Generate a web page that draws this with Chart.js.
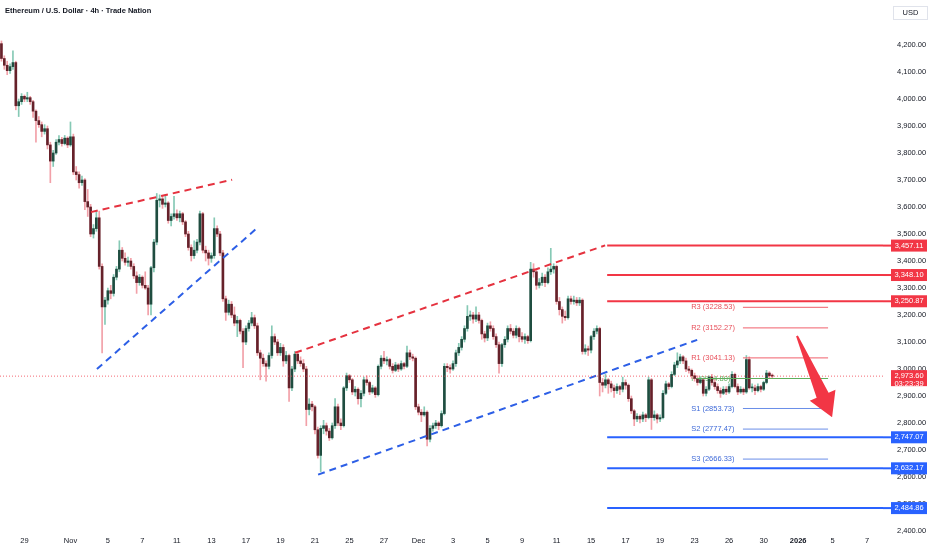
<!DOCTYPE html>
<html>
<head>
<meta charset="utf-8">
<title>Ethereum / U.S. Dollar 4h</title>
<script src="https://cdn.jsdelivr.net/npm/chart.js@4.4.1/dist/chart.umd.min.js"></script>
<style>
html,body{margin:0;padding:0;background:#fff;}
canvas{display:block;}
</style>
</head>
<body>
<canvas id="chart" width="932" height="550"></canvas>
<script>
// 4h candles, bar index 0 = first visible bar
const opens=[
4205,4150,4125,4105,4120,4135,3975,3990,4010,4000,
4005,3990,3955,3920,3905,3880,3890,3830,3770,3800,
3840,3850,3835,3855,3830,3860,3730,3720,3690,3700,
3620,3600,3500,3520,3560,3380,3230,3255,3290,3280,
3340,3370,3440,3410,3395,3400,3380,3345,3320,3340,
3310,3300,3240,3375,3470,3625,3630,3610,3615,3550,
3565,3575,3560,3575,3545,3500,3450,3420,3440,3470,
3575,3440,3430,3410,3420,3520,3500,3430,3260,3210,
3240,3200,3170,3180,3140,3100,3150,3170,3190,3160,
3060,3040,3020,3010,3050,3120,3100,3060,3080,3030,
3050,2930,3000,3055,3030,3020,3000,2850,2870,2860,
2775,2680,2780,2790,2770,2745,2790,2860,2800,2790,
2930,2975,2960,2915,2925,2890,2910,2960,2950,2915,
2930,2905,3010,3040,3030,3035,3010,2995,3015,3000,
3020,3010,3060,3045,3040,2860,2840,2830,2840,2740,
2780,2790,2800,2790,2835,3010,3005,3000,3020,3060,
3080,3110,3150,3195,3200,3185,3200,3180,3130,3115,
3160,3150,3120,3090,3020,3090,3110,3150,3140,3125,
3150,3120,3110,3120,3105,3370,3360,3310,3320,3340,
3320,3360,3370,3380,3250,3220,3195,3190,3260,3250,
3255,3245,3255,3065,3075,3070,3120,3140,3150,2950,
2940,2960,2945,2930,2920,2935,2925,2950,2940,2890,
2845,2815,2825,2815,2830,2820,2960,2820,2830,2815,
2820,2910,2945,2935,2980,3015,3030,3045,3030,3000,
2995,2975,2965,2950,2960,2910,2925,2970,2950,2935,
2920,2910,2925,2915,2935,2980,2935,2915,2925,2915,
3035,2930,2930,2920,2935,2925,2950,2985,2975];
const highs=[
4215,4160,4140,4130,4178,4140,4000,4020,4015,4025,
4010,3995,3960,3935,3915,3905,3900,3840,3810,3850,
3865,3858,3865,3860,3915,3870,3750,3730,3715,3705,
3665,3610,3535,3585,3585,3390,3265,3300,3310,3350,
3380,3475,3450,3430,3415,3410,3390,3360,3350,3345,
3360,3310,3380,3480,3650,3645,3640,3645,3620,3575,
3640,3590,3585,3580,3550,3510,3460,3475,3480,3585,
3580,3455,3440,3430,3560,3530,3510,3440,3270,3255,
3250,3230,3195,3185,3150,3160,3180,3210,3200,3170,
3070,3055,3030,3060,3160,3130,3110,3095,3090,3065,
3055,3010,3065,3060,3045,3035,3010,2890,2880,2865,
2785,2790,2810,2800,2780,2800,2890,2870,2815,2935,
2985,2980,2965,2935,2930,2920,2970,2975,2955,2940,
2935,3015,3050,3065,3045,3040,3020,3025,3020,3030,
3025,3085,3070,3055,3045,2870,2850,2860,2845,2790,
2800,2810,2805,2845,3020,3020,3015,3030,3070,3095,
3120,3160,3235,3215,3210,3230,3210,3185,3140,3170,
3175,3160,3130,3100,3095,3120,3160,3165,3150,3160,
3155,3135,3130,3125,3395,3390,3365,3335,3355,3350,
3375,3447,3390,3385,3265,3230,3215,3270,3270,3270,
3265,3265,3260,3090,3085,3125,3150,3160,3155,2965,
2980,2965,2955,2940,2945,2940,2970,2960,2945,2900,
2850,2835,2830,2840,2835,2970,2965,2845,2835,2830,
2920,2955,2950,2990,3025,3060,3055,3050,3040,3010,
3000,2985,2975,2970,2965,2935,2975,2980,2960,2945,
2930,2935,2935,2945,2990,2985,2945,2935,2930,3050,
3045,2945,2940,2945,2940,2955,2995,2990,2982];
const lows=[
4140,4110,4090,4095,4110,3960,3935,3980,3990,3990,
3980,3932,3840,3895,3860,3870,3815,3690,3750,3795,
3830,3825,3830,3820,3825,3720,3700,3670,3680,3590,
3565,3490,3485,3510,3370,3060,3165,3240,3260,3270,
3330,3360,3400,3385,3380,3370,3335,3280,3310,3300,
3295,3200,3200,3360,3460,3600,3595,3600,3540,3530,
3555,3550,3545,3535,3490,3440,3400,3410,3430,3460,
3430,3400,3385,3395,3410,3490,3420,3250,3180,3200,
3190,3160,3120,3130,3005,3090,3140,3160,3150,3050,
2960,3010,2955,3000,3040,3090,3050,3050,3010,3020,
2880,2920,2990,3020,3010,2990,2790,2830,2845,2760,
2670,2620,2760,2755,2735,2740,2780,2790,2775,2785,
2920,2950,2905,2900,2870,2860,2900,2940,2905,2910,
2895,2900,3000,3020,3015,3000,2985,2990,2990,2995,
3000,3005,3035,3030,2850,2830,2805,2825,2715,2730,
2770,2780,2775,2785,2830,2990,2985,2995,3010,3050,
3070,3100,3140,3180,3170,3175,3170,3110,3100,3105,
3140,3110,3080,2985,3010,3080,3100,3130,3115,3115,
3100,3100,3095,3095,3100,3340,3295,3300,3310,3305,
3315,3350,3355,3240,3200,3170,3180,3185,3240,3240,
3235,3235,3055,3055,3050,3060,3110,3130,2900,2915,
2930,2910,2915,2895,2910,2905,2915,2925,2880,2835,
2790,2805,2800,2805,2805,2815,2776,2810,2800,2805,
2815,2905,2925,2930,2975,3005,3020,3020,2990,2985,
2965,2955,2940,2945,2900,2900,2920,2940,2925,2910,
2895,2905,2905,2910,2930,2930,2905,2910,2905,2910,
2925,2915,2905,2915,2915,2920,2945,2965,2965];
const closes=[
4150,4125,4105,4120,4135,3975,3990,4010,4000,4005,
3990,3955,3920,3905,3880,3890,3830,3770,3800,3840,
3850,3835,3855,3830,3860,3730,3720,3690,3700,3620,
3600,3500,3520,3560,3380,3230,3255,3290,3280,3340,
3370,3440,3410,3395,3400,3380,3345,3320,3340,3310,
3300,3240,3375,3470,3625,3630,3610,3615,3550,3565,
3575,3560,3575,3545,3500,3450,3420,3440,3470,3575,
3440,3430,3410,3420,3520,3500,3430,3260,3210,3240,
3200,3170,3180,3140,3100,3150,3170,3190,3160,3060,
3040,3020,3010,3050,3120,3100,3060,3080,3030,3050,
2930,3000,3055,3030,3020,3000,2850,2870,2860,2775,
2680,2780,2790,2770,2745,2790,2860,2800,2790,2930,
2975,2960,2915,2925,2890,2910,2960,2950,2915,2930,
2905,3010,3040,3030,3035,3010,2995,3015,3000,3020,
3010,3060,3045,3040,2860,2840,2830,2840,2740,2780,
2790,2800,2790,2835,3010,3005,3000,3020,3060,3080,
3110,3150,3195,3200,3185,3200,3180,3130,3115,3160,
3150,3120,3090,3020,3090,3110,3150,3140,3125,3150,
3120,3110,3120,3105,3370,3360,3310,3320,3340,3320,
3360,3370,3380,3250,3220,3195,3190,3260,3250,3255,
3245,3255,3065,3075,3070,3120,3140,3150,2950,2940,
2960,2945,2930,2920,2935,2925,2950,2940,2890,2845,
2815,2825,2815,2830,2820,2960,2820,2830,2815,2820,
2910,2945,2935,2980,3015,3030,3045,3030,3000,2995,
2975,2965,2950,2960,2910,2925,2970,2950,2935,2920,
2910,2925,2915,2935,2980,2935,2915,2925,2915,3035,
2930,2930,2920,2935,2925,2950,2985,2975,2973.6];

// time axis labels (bar index -> text)
const tickIdx=[8,24,37,49,61,73,85,97,109,121,133,145,157,169,181,193,205,217,229,241,253,265,277,289,301];
const tickText=['29','Nov','5','7','11','13','17','19','21','25','27','Dec','3','5','9','11','15','17','19','23','26','30','2026','5','7'];
const priceTicks=[2400,2500,2600,2700,2800,2900,3000,3100,3200,3300,3400,3500,3600,3700,3800,3900,4000,4100,4200];

// horizontal levels
const resistance=[3457.11,3348.10,3250.87];
const support=[2747.07,2632.17,2484.86];
const pivotNames=['R3','R2','R1','P','S1','S2','S3'];
const pivotValues=[3228.53,3152.27,3041.13,2964.80,2853.73,2777.47,2666.33];
const countdown='03:23:39';

// trend lines [barIndex, price]
const redWedge1=[[31.1,3581],[80.2,3701]];
const blueWedge1=[[33.2,3000],[89.2,3525]];
const redChannel=[[102.1,3060],[209.9,3458]];
const blueChannel=[[110.1,2609],[241.9,3108]];
const arrowPath=[[276.6,3123],[288.8,2821]];

const FONT='"Liberation Sans", Arial, sans-serif';
Chart.defaults.font.family=FONT;
Chart.defaults.font.size=7.5;
Chart.defaults.color='#131722';

const RED='#f23645', BLUE='#2962ff';
const UP_BODY='#1f4d40', DN_BODY='#66212a', UP_WICK='#86c9b5', DN_WICK='#f2a0a8';
const XMAX=306.5, LVL_FROM=210.6, PIV_FROM=257.8, PIV_TO=287.4;

const fmt=v=>v.toLocaleString('en-US',{minimumFractionDigits:2,maximumFractionDigits:2});
const isUp=i=>closes[i]>=opens[i];
const last=closes[closes.length-1];

function hline(v,x1,x2,color,width,dash){
    return {type:'line',data:[{x:x1,y:v},{x:x2,y:v}],borderColor:color,borderWidth:width,
        borderDash:dash||[],pointRadius:0,order:1};
}
function trend(p,color){
    return {type:'line',data:p.map(q=>({x:q[0],y:q[1]})),borderColor:color,borderWidth:2,
        borderDash:[7,5],pointRadius:0,order:1};
}

const datasets=[
    {type:'bar',data:closes.map((c,i)=>({x:i,y:[lows[i],highs[i]]})),barThickness:1,grouped:false,
        backgroundColor:ctx=>isUp(ctx.dataIndex)?UP_WICK:DN_WICK,order:3},
    {type:'bar',data:closes.map((c,i)=>({x:i,y:[opens[i],c]})),barThickness:2,grouped:false,minBarLength:1,
        backgroundColor:ctx=>isUp(ctx.dataIndex)?UP_BODY:DN_BODY,order:2},
    hline(last,-0.5,XMAX,'rgba(242,54,69,0.75)',1,[1,2]),
    trend(redWedge1,'#e5323f'),
    trend(blueWedge1,'#2d5fe6'),
    trend(redChannel,'#e5323f'),
    trend(blueChannel,'#2d5fe6')
];
resistance.forEach(v=>datasets.push(hline(v,LVL_FROM,XMAX,RED,2)));
support.forEach(v=>datasets.push(hline(v,LVL_FROM,XMAX,BLUE,2)));
pivotValues.forEach((v,i)=>{
    const n=pivotNames[i];
    const col=n==='P'?'#5fae5c':(n[0]==='R'?'#f0606b':'#6a8ee8');
    datasets.push(hline(v,n==='P'?241.8:PIV_FROM,PIV_TO,col,1));
});

const overlay={
    id:'overlay',
    beforeDatasetsDraw(chart){
        const {ctx,scales:{x,y}}=chart;
        ctx.save();
        ctx.font='7.5px '+FONT;
        ctx.textBaseline='middle';
        pivotNames.forEach((n,i)=>{
            if(n!=='P')return;
            ctx.fillStyle='#5fae5c';
            ctx.fillText(n+' ('+pivotValues[i].toFixed(2)+')',x.getPixelForValue(239.8),y.getPixelForValue(pivotValues[i]));
        });
        ctx.restore();
    },
    afterDraw(chart){
        const {ctx,chartArea,scales:{x,y}}=chart;
        const R=chartArea.right;
        ctx.save();
        ctx.textBaseline='middle';

        // title
        ctx.font='bold 7.5px '+FONT;
        ctx.fillStyle='#131722';
        ctx.fillText('Ethereum / U.S. Dollar · 4h · Trade Nation',5,11);

        // pivot labels
        ctx.font='7.5px '+FONT;
        pivotNames.forEach((n,i)=>{
            if(n==='P')return;
            ctx.fillStyle=n[0]==='R'?'#e8505b':'#3f6ad8';
            ctx.fillText(n+' ('+pivotValues[i].toFixed(2)+')',x.getPixelForValue(239.8),y.getPixelForValue(pivotValues[i]));
        });

        // arrow
        const a=[x.getPixelForValue(arrowPath[0][0]),y.getPixelForValue(arrowPath[0][1])];
        const b=[x.getPixelForValue(arrowPath[1][0]),y.getPixelForValue(arrowPath[1][1])];
        const dx=b[0]-a[0],dy=b[1]-a[1],len=Math.hypot(dx,dy),ux=dx/len,uy=dy/len,nx=-uy,ny=ux;
        const hx=b[0]-ux*24,hy=b[1]-uy*24;
        ctx.beginPath();
        ctx.moveTo(a[0]+nx,a[1]+ny);
        ctx.lineTo(hx+nx*6.5,hy+ny*6.5);
        ctx.lineTo(hx+nx*14,hy+ny*14);
        ctx.lineTo(b[0],b[1]);
        ctx.lineTo(hx-nx*14,hy-ny*14);
        ctx.lineTo(hx-nx*6.5,hy-ny*6.5);
        ctx.lineTo(a[0]-nx,a[1]-ny);
        ctx.closePath();
        ctx.fillStyle=RED;
        ctx.fill();

        // price scale tags
        const tag=(v,color,text2)=>{
            const py=y.getPixelForValue(v);
            ctx.fillStyle=color;
            if(!text2)ctx.fillRect(R,py-1,8,2);
            const h=text2?16:12;
            ctx.fillRect(R+8,py-6,36,h);
            ctx.fillStyle='#fff';
            ctx.textAlign='center';
            ctx.fillText(fmt(v),R+26,py);
            if(text2)ctx.fillText(text2,R+26,py+8);
            ctx.textAlign='left';
        };
        resistance.forEach(v=>tag(v,RED));
        support.forEach(v=>tag(v,BLUE));
        tag(last,RED,countdown);

        // currency box
        ctx.strokeStyle='#e0e3eb';
        ctx.lineWidth=1;
        ctx.fillStyle='#fff';
        ctx.fillRect(R+10.5,6.5,34,13);
        ctx.strokeRect(R+10.5,6.5,34,13);
        ctx.fillStyle='#131722';
        ctx.textAlign='center';
        ctx.fillText('USD',R+27.5,13);
        ctx.restore();
    }
};

new Chart(document.getElementById('chart'),{
    type:'bar',
    data:{datasets:datasets},
    options:{
        responsive:false,
        animation:false,
        layout:{padding:0},
        plugins:{legend:{display:false},tooltip:{enabled:false}},
        scales:{
            x:{
                type:'linear',min:-0.5,max:XMAX,offset:false,
                grid:{display:false,drawTicks:false},border:{display:false},
                afterBuildTicks:s=>{s.ticks=tickIdx.map(v=>({value:v}));},
                afterFit:s=>{s.height=18;s.paddingLeft=0;s.paddingRight=0;},
                ticks:{
                    autoSkip:false,maxRotation:0,padding:4,
                    callback:v=>tickText[tickIdx.indexOf(v)],
                    font:c=>({size:7.5,weight:(c.tick&&tickText[tickIdx.indexOf(c.tick.value)]==='2026')?'bold':'normal'})
                }
            },
            y:{
                position:'right',min:2396.3,max:4366.7,
                grid:{display:false,drawTicks:false},border:{display:false},
                afterBuildTicks:s=>{s.ticks=priceTicks.map(v=>({value:v}));},
                // keep the label padding from shrinking the plot height
                afterFit:s=>{s.width=49;s.paddingTop=0;s.paddingBottom=0;},
                ticks:{padding:14,callback:v=>fmt(v)}
            }
        }
    },
    plugins:[overlay]
});
</script>
</body>
</html>
